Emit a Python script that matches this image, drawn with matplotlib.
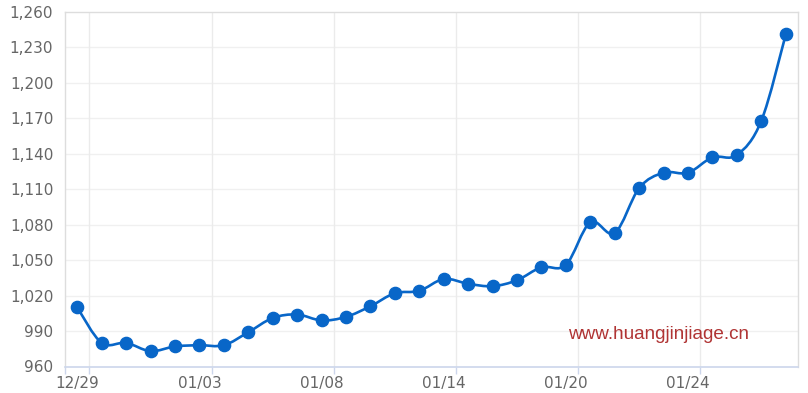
import numpy as np
import matplotlib
matplotlib.use('Agg')
import matplotlib.pyplot as plt
from matplotlib.path import Path
from matplotlib.patches import PathPatch

# daily price values, one per category
prices = [1010, 980, 980, 973, 977, 978, 978, 989, 1001, 1004,
          999, 1002, 1011, 1022, 1024, 1034, 1030, 1028, 1033, 1044,
          1046, 1082, 1073, 1111, 1124, 1124, 1137, 1139, 1168, 1241]

# only every fifth category gets a visible date label
label_index = [0, 5, 10, 15, 20, 25]
label_text = ['12/29', '01/03', '01/08', '01/14', '01/20', '01/24']

y_ticks = list(range(960, 1261, 30))

LINE_COL = '#0866c8'
SMOOTH = 0.17


def smooth_path(xs, ys, t):
    # bezier segments through every point, control points from neighbours
    n = len(xs)
    verts = [(xs[0], ys[0])]
    codes = [Path.MOVETO]
    for i in range(n - 1):
        x0, y0 = xs[i], ys[i]
        x1, y1 = xs[i + 1], ys[i + 1]
        xp, yp = (xs[i - 1], ys[i - 1]) if i > 0 else (x0, y0)
        xn, yn = (xs[i + 2], ys[i + 2]) if i + 2 < n else (x1, y1)
        c1 = (x0 + t * (x1 - xp), y0 + t * (y1 - yp))
        c2 = (x1 - t * (xn - x0), y1 - t * (yn - y0))
        verts += [c1, c2, (x1, y1)]
        codes += [Path.CURVE4] * 3
    return Path(verts, codes)


fig = plt.figure(figsize=(8.08, 3.93), dpi=100)
ax = fig.add_axes([65 / 808, 26.5 / 393, 733 / 808, 354.5 / 393])

x = np.arange(len(prices))
ax.add_patch(PathPatch(smooth_path(x, prices, SMOOTH), facecolor='none',
                       edgecolor=LINE_COL, lw=1.9, zorder=3))
ax.plot(x, prices, linestyle='none', marker='o', markersize=8.8,
        color=LINE_COL, zorder=4)

ax.set_xlim(-0.5, len(prices) - 0.5)
ax.set_ylim(960, 1260)

# grid lines
ax.set_yticks(y_ticks)
ax.set_yticklabels(['{:,}'.format(v) for v in y_ticks])
for v in y_ticks[1:-1]:
    ax.axhline(v, color='#f0f0f0', lw=1, zorder=1)

bounds = [i + 0.5 for i in label_index]
ax.set_xticks([-0.5] + bounds)
ax.set_xticklabels([''] * (len(bounds) + 1))
ax.set_xticks(label_index, minor=True)
ax.set_xticklabels(label_text, minor=True)
for b in bounds:
    ax.axvline(b, color='#ebebeb', lw=1, zorder=1)

ax.tick_params(axis='x', which='major', length=5.2, width=1, color='#ccd6eb')
ax.tick_params(axis='x', which='minor', length=0, pad=7,
               labelsize=11, labelcolor='#666666')
ax.tick_params(axis='y', length=0, pad=8.5, labelsize=11,
               labelcolor='#666666')

for side in ['top', 'right', 'left']:
    ax.spines[side].set_color('#dddddd')
    ax.spines[side].set_linewidth(1)
ax.spines['bottom'].set_color('#ccd6eb')
ax.spines['bottom'].set_linewidth(1.2)

ax.text(0.686, 0.09, 'www.huangjinjiage.cn', transform=ax.transAxes,
        family='Liberation Sans', fontsize=13.6, color='#b03434',
        ha='left', va='center')

fig.savefig('out.png', dpi=100)
